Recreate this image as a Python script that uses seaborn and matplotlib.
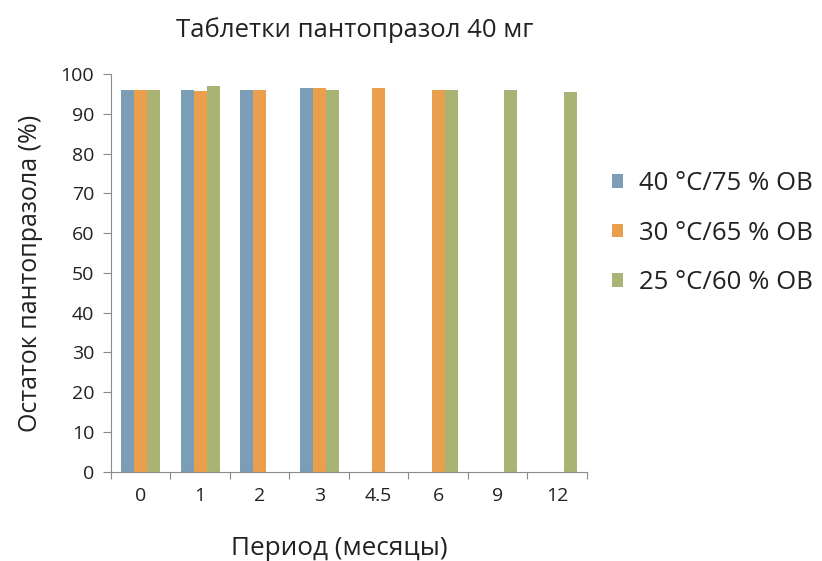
import numpy as np
import pandas as pd
import matplotlib
matplotlib.use("Agg")
import matplotlib.pyplot as plt
import seaborn as sns
from matplotlib.patches import Patch
from matplotlib.ticker import FixedLocator

# Storage periods (months) and remaining pantoprazole (%) per storage condition
periods = ["0", "1", "2", "3", "4.5", "6", "9", "12"]
cond_40_75 = [96.1, 96.1, 96.1, 96.5, np.nan, np.nan, np.nan, np.nan]
cond_30_65 = [96.1, 95.8, 96.1, 96.5, 96.5, 96.1, np.nan, np.nan]
cond_25_60 = [96.1, 97.0, np.nan, 96.0, np.nan, 96.0, 96.1, 95.6]
conditions = ["40 °C/75 % OB", "30 °C/65 % OB", "25 °C/60 % OB"]
y_ticks = [0, 10, 20, 30, 40, 50, 60, 70, 80, 90, 100]

colors = ["#7b9db6", "#e99f4b", "#a9b474"]
text_color = "#222222"
axis_color = "#8a8a8a"

df = pd.DataFrame({
    "period": periods * 3,
    "value": cond_40_75 + cond_30_65 + cond_25_60,
    "cond": [c for c in conditions for _ in periods],
})

sns.set_style("white")
plt.rcParams["font.family"] = ["Open Sans", "DejaVu Sans"]

fig = plt.figure(figsize=(8.22, 5.61), dpi=100)
ax = fig.add_axes([0.135, 0.159, 0.579, 0.709])

sns.barplot(data=df, x="period", y="value", hue="cond", order=periods,
            hue_order=conditions, palette=colors, width=0.66, gap=0,
            saturation=1, errorbar=None, legend=False, linewidth=0, ax=ax)

ax.set_ylim(0, 100)
ax.set_xlim(-0.5, len(periods) - 0.5)
ax.set_yticks(y_ticks)
ax.tick_params(axis="y", length=6, width=0.8, color=axis_color, pad=6,
               labelsize=14, labelcolor=text_color, left=True)
ax.tick_params(axis="x", which="major", length=0, pad=11, labelsize=14,
               labelcolor=text_color)
ax.xaxis.set_minor_locator(FixedLocator(np.arange(len(periods) + 1) - 0.5))
ax.tick_params(axis="x", which="minor", length=5, width=0.8, color=axis_color,
               bottom=True)

for side in ["top", "right"]:
    ax.spines[side].set_visible(False)
for side in ["left", "bottom"]:
    ax.spines[side].set_color(axis_color)
    ax.spines[side].set_linewidth(0.8)

xl = ax.set_xlabel("Период (месяцы)", fontsize=18.8, color=text_color)
xl.set_va("center")
ax.xaxis.set_label_coords(0.48, -0.192)
yl = ax.set_ylabel("Остаток пантопразола (%)", fontsize=18, color=text_color)
yl.set_va("center")
ax.yaxis.set_label_coords(-0.17, 0.5)

fig.text(355 / 822, 1 - 30 / 561, "Таблетки пантопразол 40 мг", fontsize=18.5,
         color=text_color, ha="center", va="center")

handles = [Patch(facecolor=c, edgecolor="none") for c in colors]
ax.legend(handles, conditions, loc="center left", bbox_to_anchor=(1.0525, 0.60),
          frameon=False, fontsize=18.5, handlelength=0.45, handleheight=0.45,
          handletextpad=0.6, labelspacing=0.95, borderpad=0, borderaxespad=0,
          labelcolor=text_color)

fig.savefig("out.png", dpi=100)
